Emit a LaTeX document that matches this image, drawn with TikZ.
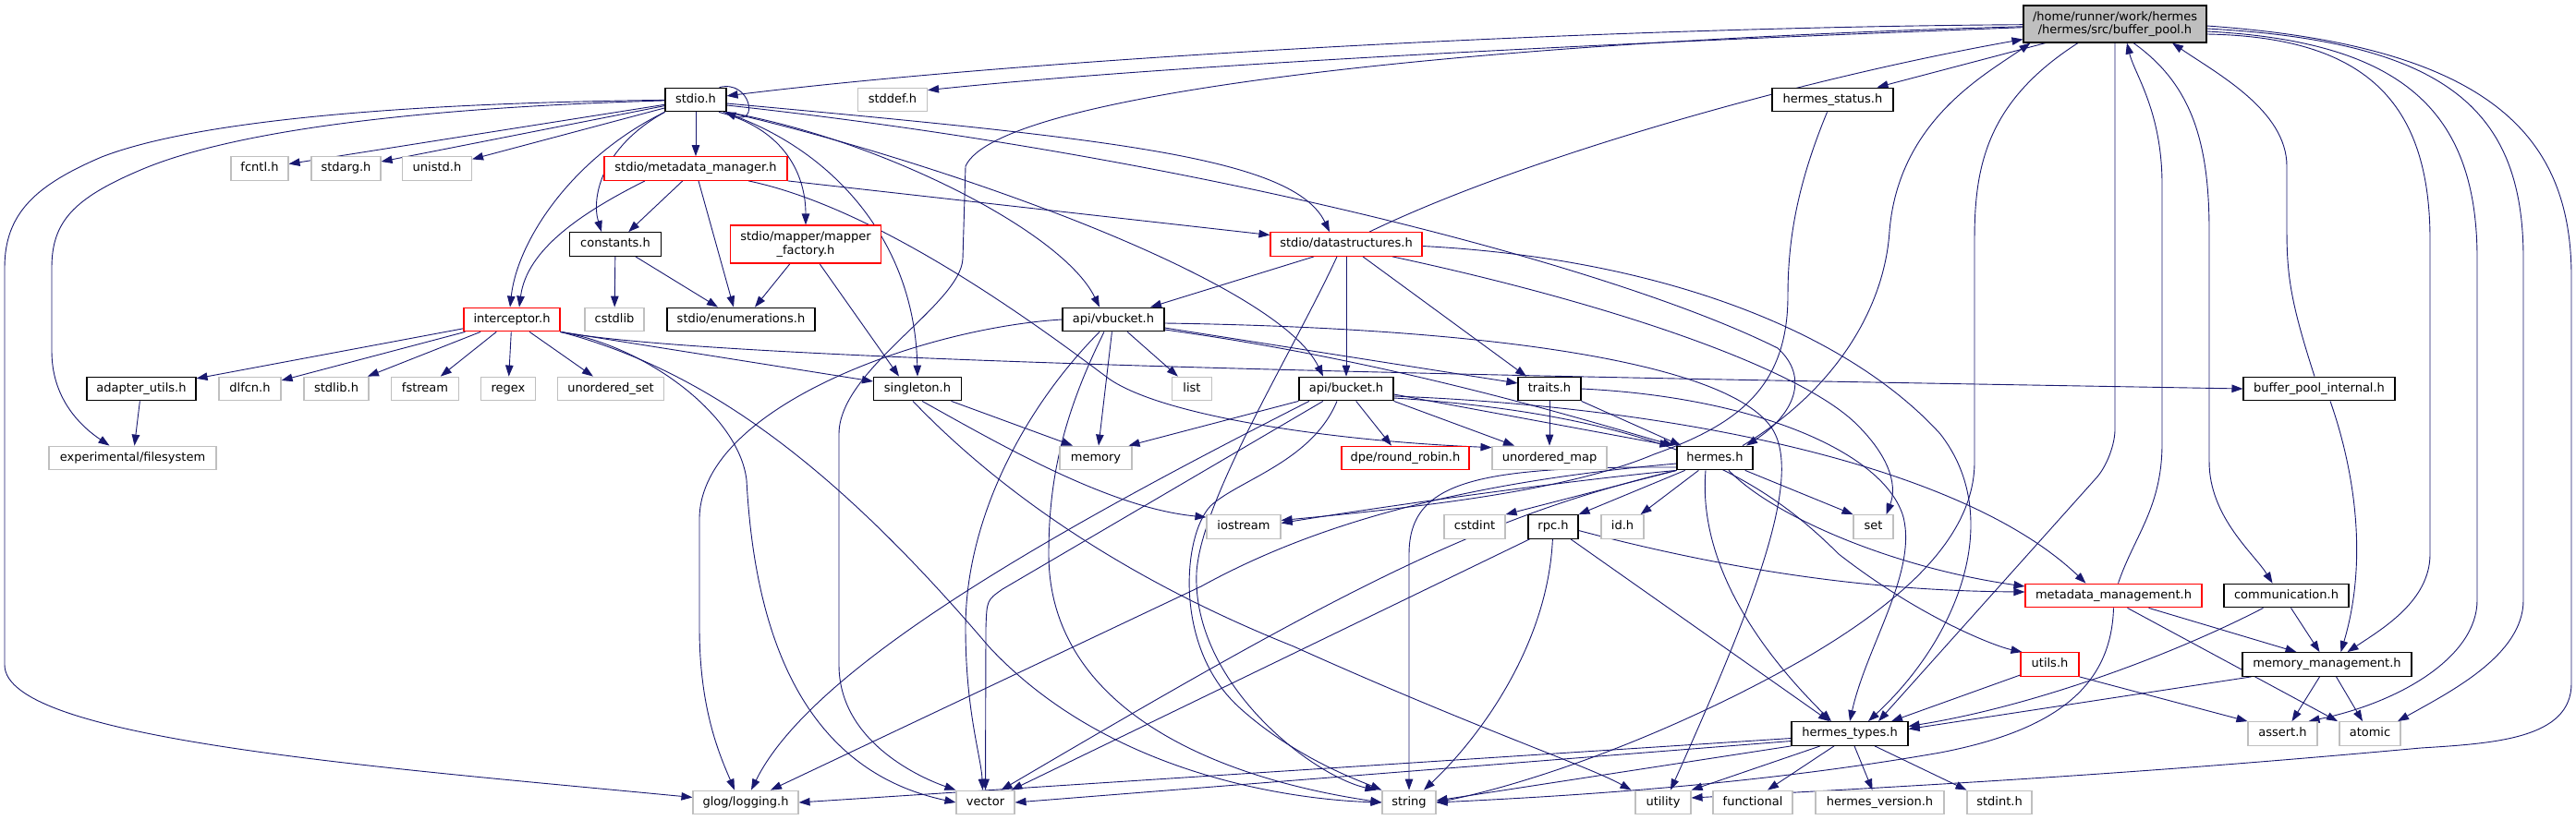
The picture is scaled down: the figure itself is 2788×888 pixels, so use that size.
\documentclass[tikz,border=0pt]{standalone}
\usepackage{fontspec}
\setmainfont{DejaVu Sans}
\usetikzlibrary{arrows.meta}
\definecolor{edgeblue}{HTML}{191970}
\definecolor{extgray}{HTML}{BFBFBF}
\definecolor{rootgray}{HTML}{BFBFBF}
\definecolor{redb}{HTML}{FF0000}
\newcommand\nodefont{\fontsize{13}{14.5}\selectfont}
\pgfdeclarelayer{bglayer}
\pgfdeclarelayer{edgelayer}
\pgfsetlayers{bglayer,edgelayer,main}
\tikzset{
  nd/.style={rectangle, inner sep=0pt, line width=1.1pt, fill=white, font=\nodefont},
  one/.style={nd, minimum height=25.7pt, text height=9.8pt, text depth=2.9pt},
  wd/.style={minimum width=#1pt},
  extn/.style={one, draw=extgray},
  docn/.style={one, draw=black},
  redn/.style={one, draw=redb},
  rootn/.style={nd, draw=black, fill=rootgray, align=center, minimum height=40pt},
  twored/.style={nd, draw=redb, align=center, minimum height=41pt},
  edg/.style={draw=edgeblue, line width=0.9pt, -{Triangle[length=12pt,width=8.5pt]}},
}
\begin{document}
\begin{tikzpicture}[x=1pt,y=-1pt]
\useasboundingbox (0,0) rectangle (2788,888);
\begin{pgfonlayer}{bglayer}
\fill[white] (0,0) rectangle (2788,888);
\end{pgfonlayer}
% nodes
\node[rootn, wd=198] (bp) at (2289,26) {/home/runner/work/hermes\\/hermes/src/buffer\_pool.h};
\node[docn, wd=66] (stdio) at (753,108) {stdio.h};
\node[extn, wd=75] (stddef) at (966,108) {stddef.h};
\node[docn, wd=131] (hstatus) at (1983.5,108) {hermes\_status.h};
\node[extn, wd=62] (fcntl) at (281,182.5) {fcntl.h};
\node[extn, wd=75] (stdarg) at (374.5,182.5) {stdarg.h};
\node[extn, wd=75] (unistd) at (473,182.5) {unistd.h};
\node[redn, wd=198] (mm) at (753,182.5) {stdio/metadata\_manager.h};
\node[docn, wd=99] (constants) at (666,264.5) {constants.h};
\node[twored, wd=163] (mapper) at (872,264.5) {stdio/mapper/mapper\\\_factory.h};
\node[redn, wd=164] (ds) at (1457,264.5) {stdio/datastructures.h};
\node[extn, wd=64] (cstdlib) at (665,346) {cstdlib};
\node[redn, wd=104] (interceptor) at (554,346) {interceptor.h};
\node[docn, wd=160] (enums) at (802,346) {stdio/enumerations.h};
\node[docn, wd=110] (vbucket) at (1205,346) {api/vbucket.h};
\node[docn, wd=118] (adapter) at (153,421) {adapter\_utils.h};
\node[extn, wd=67] (dlfcn) at (270.5,421) {dlfcn.h};
\node[extn, wd=70] (stdlib) at (364,421) {stdlib.h};
\node[extn, wd=73] (fstream) at (460,421) {fstream};
\node[extn, wd=59] (regex) at (550,421) {regex};
\node[extn, wd=115] (uset) at (661,421) {unordered\_set};
\node[docn, wd=95] (singleton) at (993,421) {singleton.h};
\node[extn, wd=43] (list) at (1290,421) {list};
\node[docn, wd=102] (bucket) at (1457,421) {api/bucket.h};
\node[docn, wd=68] (traits) at (1677,421) {traits.h};
\node[docn, wd=164] (bpi) at (2510,421) {buffer\_pool\_internal.h};
\node[extn, wd=181] (expfs) at (143.5,496) {experimental/filesystem};
\node[extn, wd=78] (memory) at (1186,496) {memory};
\node[redn, wd=138] (rr) at (1521,496) {dpe/round\_robin.h};
\node[extn, wd=124] (umap) at (1677,496) {unordered\_map};
\node[docn, wd=82] (hermes) at (1856,496) {hermes.h};
\node[extn, wd=80] (iostream) at (1346,570.5) {iostream};
\node[extn, wd=66] (cstdint) at (1596,570.5) {cstdint};
\node[docn, wd=54] (rpc) at (1681,570.5) {rpc.h};
\node[extn, wd=46] (idh) at (1756,570.5) {id.h};
\node[extn, wd=43] (set) at (2027.5,570.5) {set};
\node[redn, wd=191] (mgmt) at (2287.5,645) {metadata\_management.h};
\node[docn, wd=135] (comm) at (2474.5,645) {communication.h};
\node[redn, wd=63] (utils) at (2218.5,719.5) {utils.h};
\node[docn, wd=183] (memmgmt) at (2518.5,719.5) {memory\_management.h};
\node[docn, wd=126] (htypes) at (2002,794.5) {hermes\_types.h};
\node[extn, wd=75] (assert) at (2470.5,794.5) {assert.h};
\node[extn, wd=66] (atomic) at (2565,794.5) {atomic};
\node[extn, wd=114] (glog) at (807,869) {glog/logging.h};
\node[extn, wd=63] (vector) at (1066.5,869) {vector};
\node[extn, wd=58] (string) at (1525,869) {string};
\node[extn, wd=60] (utility) at (1800,869) {utility};
\node[extn, wd=86] (functional) at (1897,869) {functional};
\node[extn, wd=139] (hversion) at (2034.5,869) {hermes\_version.h};
\node[extn, wd=70] (stdint) at (2164,869) {stdint.h};

\begin{pgfonlayer}{edgelayer}
% buffer_pool.h outgoing
\draw[edg] (bp) .. controls (1700,30) and (1100,65) .. (stdio);
\draw[edg] (bp) .. controls (1700,48) and (1250,72) .. ([yshift=-3]stddef.north east);
\draw[edg] (bp) .. controls (1600,45) and (1080,100) .. (1045,180) -- (1042,280) .. controls (1040,330) and (908,400) .. (908,470) -- (908,720) .. controls (908,800) and (990,840) .. (vector.north west);
\draw[edg] ([xshift=-75]bp.south) -- ([xshift=48]hstatus.north);
\draw[edg] ([xshift=-40]bp.south) .. controls (2150,110) and (2137,180) .. (2137,260) -- (2137,500) .. controls (2137,570) and (2080,640) .. (1950,715) .. controls (1800,800) and (1650,850) .. (string.east);
\draw[edg, rounded corners=30pt] (bp.south) -- (2289,495) -- ([xshift=31]htypes.north);
\draw[edg] ([xshift=20]bp.south) .. controls (2370,90) and (2391,150) .. (2391,250) -- (2391,500) .. controls (2391,560) and (2440,600) .. ([xshift=-15]comm.north);
\draw[edg] ([yshift=-11]bp.east) .. controls (2560,40) and (2630,110) .. (2630,260) -- (2630,600) .. controls (2630,650) and (2580,680) .. ([xshift=22]memmgmt.north);
\draw[edg] ([yshift=-8]bp.east) .. controls (2600,45) and (2681,120) .. (2681,280) -- (2681,650) .. controls (2681,710) and (2600,760) .. ([xshift=28]assert.north);
\draw[edg] ([yshift=-5]bp.east) .. controls (2650,45) and (2731,120) .. (2731,280) -- (2731,650) .. controls (2731,710) and (2650,750) .. ([xshift=30]atomic.north);
\draw[edg] ([yshift=-2]bp.east) .. controls (2700,50) and (2783,150) .. (2783,300) -- (2783,740) .. controls (2783,800) and (2700,805) .. (2620,810) .. controls (2400,830) and (2200,845) .. ([yshift=5]utility.east);
% buffer_pool.h incoming
\draw[edg] ([xshift=25]ds.north) .. controls (1650,170) and (1950,85) .. ([yshift=4]bp.south west);
\draw[edg] ([xshift=30]hermes.north) .. controls (1990,420) and (2040,330) .. (2045,250) .. controls (2055,130) and (2150,80) .. ([xshift=8]bp.south west);
\draw[edg] ([xshift=5]mgmt.north) .. controls (2310,580) and (2340,550) .. (2340,480) -- (2340,200) .. controls (2340,120) and (2310,80) .. ([xshift=13]bp.south);
\draw[edg] ([xshift=-5]bpi.north) .. controls (2480,330) and (2475,300) .. (2475,250) -- (2475,180) .. controls (2475,120) and (2400,80) .. ([xshift=62]bp.south);
% stdio.h
\draw[edg] ([xshift=-8]stdio.north east) .. controls (812,86) and (822,136) .. ([xshift=-2]stdio.south east);
\draw[edg] (stdio) -- (fcntl);
\draw[edg] (stdio) -- (stdarg);
\draw[edg] (stdio) -- (unistd);
\draw[edg] (stdio) .. controls (400,118) and (230,150) .. (150,185) .. controls (80,215) and (56,240) .. (56,290) -- (56,380) .. controls (56,430) and (85,460) .. ([xshift=-25]expfs.north);
\draw[edg] (stdio) .. controls (400,112) and (200,135) .. (110,170) .. controls (40,200) and (5,230) .. (5,290) -- (5,720) .. controls (5,800) and (400,830) .. (glog);
\draw[edg] (stdio) -- (mm);
\draw[edg] (stdio.south west) .. controls (650,160) and (640,215) .. ([xshift=-15]constants.north);
\draw[edg] (stdio.south west) .. controls (620,170) and (560,260) .. ([xshift=-2]interceptor.north);
\draw[edg] ([xshift=25]stdio.south) .. controls (850,140) and (872,190) .. (mapper);
\draw[edg] ([xshift=30]stdio.south) .. controls (900,160) and (990,260) .. (singleton.north);
\draw[edg] ([yshift=-4]stdio.east) .. controls (1200,150) and (1400,170) .. ([xshift=-18]ds.north);
\draw[edg] ([yshift=-6]stdio.east) .. controls (1300,170) and (1750,290) .. (1924,377) .. controls (1960,410) and (1940,450) .. ([xshift=34]hermes.north);
\draw[edg] (stdio.south east) .. controls (950,150) and (1150,250) .. ([xshift=-15]vbucket.north);
\draw[edg] (stdio.south east) .. controls (1000,170) and (1380,300) .. ([xshift=-25]bucket.north);
% metadata_manager
\draw[edg] (mm) -- (constants);
\draw[edg] ([xshift=3]mm.south) -- ([xshift=-8]enums.north);
\draw[edg] ([xshift=-55]mm.south) .. controls (630,230) and (570,270) .. ([xshift=8]interceptor.north);
\draw[edg] (mm.south east) -- ([yshift=10]ds.west);
\draw[edg] ([xshift=57]mm.south) .. controls (950,225) and (1120,350) .. (1200,410) .. controls (1260,452) and (1450,478) .. ([yshift=-2]umap.north west);
% constants, mapper
\draw[edg] (constants) -- (cstdlib);
\draw[edg] (constants) -- ([xshift=-25]enums.north);
\draw[edg] (mapper) -- ([xshift=15]enums.north);
\draw[edg] ([xshift=15]mapper.south) -- ([xshift=-20]singleton.north);
% datastructures
\draw[edg] ([xshift=-35]ds.south) -- ([xshift=40]vbucket.north);
\draw[edg] (ds) -- (bucket);
\draw[edg] ([xshift=18]ds.south) -- ([xshift=-25]traits.north);
\draw[edg] ([xshift=-10]ds.south) .. controls (1400,380) and (1300,540) .. (1295,620) .. controls (1290,740) and (1420,840) .. ([xshift=-6]string.north west);
\draw[edg] ([yshift=-2]ds.east) .. controls (1800,280) and (2000,360) .. (2100,470) .. controls (2170,560) and (2120,690) .. ([xshift=20]htypes.north);
\draw[edg] ([xshift=50]ds.south) .. controls (1750,330) and (1950,400) .. (2010,460) .. controls (2050,500) and (2052,530) .. ([xshift=14]set.north);
% traits
\draw[edg] (traits) -- (umap);
\draw[edg] (traits.south east) -- ([xshift=5]hermes.north west);
\draw[edg] (traits.east) .. controls (1900,430) and (2040,490) .. (2060,560) .. controls (2075,620) and (2020,700) .. (htypes.north);
% vbucket
\draw[edg] (vbucket.west) .. controls (1000,355) and (760,440) .. (757,560) -- (757,680) .. controls (757,770) and (780,820) .. ([xshift=-12]glog.north);
\draw[edg] ([xshift=-15]vbucket.south) .. controls (1110,440) and (1045,560) .. (1045,680) .. controls (1045,770) and (1062,820) .. ([xshift=-3]vector.north);
\draw[edg] ([xshift=-10]vbucket.south) .. controls (1150,450) and (1135,520) .. (1135,600) .. controls (1135,760) and (1300,840) .. (string.west);
\draw[edg] (vbucket) -- ([xshift=3]memory.north);
\draw[edg] (vbucket) -- (list);
\draw[edg] ([yshift=-11]vbucket.east) .. controls (1500,390) and (1700,450) .. ([xshift=-3]hermes.north west);
\draw[edg] ([yshift=-9]vbucket.east) -- ([yshift=6]traits.west);
\draw[edg] ([yshift=-4]vbucket.east) .. controls (1600,355) and (1860,390) .. (1915,460) .. controls (1955,510) and (1900,650) .. ([xshift=8]utility.north);
% singleton
\draw[edg] (singleton) -- ([xshift=-25]memory.north);
\draw[edg] ([xshift=5]singleton.south) .. controls (1080,480) and (1200,550) .. ([yshift=-3]iostream.north west);
\draw[edg] ([xshift=-5]singleton.south) .. controls (1070,520) and (1200,620) .. (1400,700) .. controls (1600,790) and (1720,830) .. ([xshift=-4]utility.north west);
% interceptor
\draw[edg] (interceptor) -- (adapter);
\draw[edg] (interceptor) -- (dlfcn);
\draw[edg] (interceptor) -- (stdlib);
\draw[edg] (interceptor) -- (fstream);
\draw[edg] (interceptor) -- (regex);
\draw[edg] (interceptor) -- (uset);
\draw[edg] (interceptor.south east) -- ([yshift=8]singleton.west);
\draw[edg] (interceptor.south east) .. controls (800,395) and (1800,410) .. (bpi.west);
\draw[edg] (interceptor.south east) .. controls (700,375) and (800,450) .. (808,520) .. controls (815,650) and (850,830) .. (vector.west);
\draw[edg] (interceptor.south east) .. controls (760,400) and (900,500) .. (1070,700) .. controls (1200,840) and (1400,866) .. (string.west);
% adapter_utils
\draw[edg] (adapter) -- ([xshift=2]expfs.north);
% bucket
\draw[edg] (bucket.south west) -- ([xshift=-4]memory.north east);
\draw[edg] ([xshift=-40]bucket.south) .. controls (1150,570) and (880,720) .. ([xshift=6]glog.north);
\draw[edg] ([xshift=-25]bucket.south) -- (1085,638) .. controls (1068,650) .. (1067,680) -- (vector.north);
\draw[edg] ([xshift=-10]bucket.south) .. controls (1420,500) and (1340,520) .. (1310,548) .. controls (1280,580) and (1270,700) .. (1340,765) .. controls (1400,820) and (1470,845) .. (string.north west);
\draw[edg] (bucket) -- ([xshift=-15]rr.north);
\draw[edg] (bucket.south east) -- ([xshift=-38]umap.north);
\draw[edg] ([yshift=-6]bucket.east) -- ([xshift=-6]hermes.north west);
\draw[edg] ([yshift=-8]bucket.east) .. controls (1800,440) and (2120,500) .. ([xshift=-30]mgmt.north);
\draw[edg] ([yshift=-10]bucket.east) .. controls (1800,450) and (1910,520) .. (1990,600) .. controls (2080,670) and (2160,700) .. ([xshift=-30]utils.north);
% hermes
\draw[edg] (hermes.south west) .. controls (1700,520) and (1500,548) .. ([yshift=4]iostream.east);
\draw[edg] ([yshift=-6]hermes.west) .. controls (1550,525) and (1400,580) .. (1300,635) -- ([xshift=27]glog.north);
\draw[edg] (hermes.south west) .. controls (1600,560) and (1450,640) .. ([xshift=17]vector.north);
\draw[edg] ([yshift=-10]hermes.west) .. controls (1600,505) and (1525,520) .. (1525,600) -- (string.north);
\draw[edg] (hermes.south west) -- (cstdint.north east);
\draw[edg] (hermes) -- (rpc.north east);
\draw[edg] (hermes) -- ([xshift=-4]idh.north east);
\draw[edg] (hermes) -- (set.north west);
\draw[edg] ([xshift=-10]hermes.south) .. controls (1840,580) and (1870,670) .. ([xshift=-20]htypes.north);
\draw[edg] ([xshift=15]hermes.south) .. controls (1920,560) and (2050,615) .. ([yshift=10]mgmt.west);
% rpc
\draw[edg] ([xshift=2]rpc.south west) -- ([xshift=28]vector.north);
\draw[edg] (rpc) .. controls (1675,700) and (1600,800) .. ([xshift=16]string.north);
\draw[edg] (rpc) -- ([xshift=-22]htypes.north);
\draw[edg] ([yshift=-4]rpc.east) .. controls (1900,625) and (2050,640) .. ([yshift=4]mgmt.west);
% hermes_status
\draw[edg] ([xshift=-6]hstatus.south) .. controls (1945,200) and (1935,260) .. (1935,320) .. controls (1935,420) and (1880,460) .. (1790,492) .. controls (1700,530) and (1550,548) .. ([yshift=7]iostream.east);
% metadata_management
\draw[edg] ([xshift=38]mgmt.south) -- ([xshift=-33]memmgmt.north);
\draw[edg] ([xshift=15]mgmt.south) -- ([xshift=-35]atomic.north);
\draw[edg] (mgmt.south) .. controls (2285,740) and (2230,790) .. (2100,815) .. controls (1900,850) and (1700,862) .. (string.east);
% utils, communication, memory_management, buffer_pool_internal
\draw[edg] (utils) -- ([xshift=45]htypes.north);
\draw[edg] (utils.south east) -- (assert.north west);
\draw[edg] ([xshift=5]comm.south) -- ([xshift=-8]memmgmt.north);
\draw[edg] ([xshift=-25]comm.south) .. controls (2350,710) and (2200,765) .. ([yshift=8]htypes.east);
\draw[edg] ([xshift=-8]memmgmt.south) -- ([xshift=10]assert.north);
\draw[edg] ([xshift=10]memmgmt.south) -- ([xshift=-8]atomic.north);
\draw[edg] ([xshift=10]memmgmt.south west) -- ([yshift=5]htypes.east);
\draw[edg] ([xshift=12]bpi.south) .. controls (2545,500) and (2565,600) .. ([xshift=15]memmgmt.north);
% hermes_types
\draw[edg] ([yshift=-5]htypes.west) -- (glog.east);
\draw[edg] ([yshift=-8]htypes.west) -- (vector.east);
\draw[edg] (htypes.south west) -- ([yshift=2]string.east);
\draw[edg] ([xshift=-32]htypes.south) -- (utility.north east);
\draw[edg] ([xshift=-17]htypes.south) -- ([xshift=16]functional.north);
\draw[edg] ([xshift=5]htypes.south) -- ([xshift=-8]hversion.north);
\draw[edg] ([xshift=27]htypes.south) -- (stdint.north west);
\end{pgfonlayer}
\end{tikzpicture}
\end{document}
